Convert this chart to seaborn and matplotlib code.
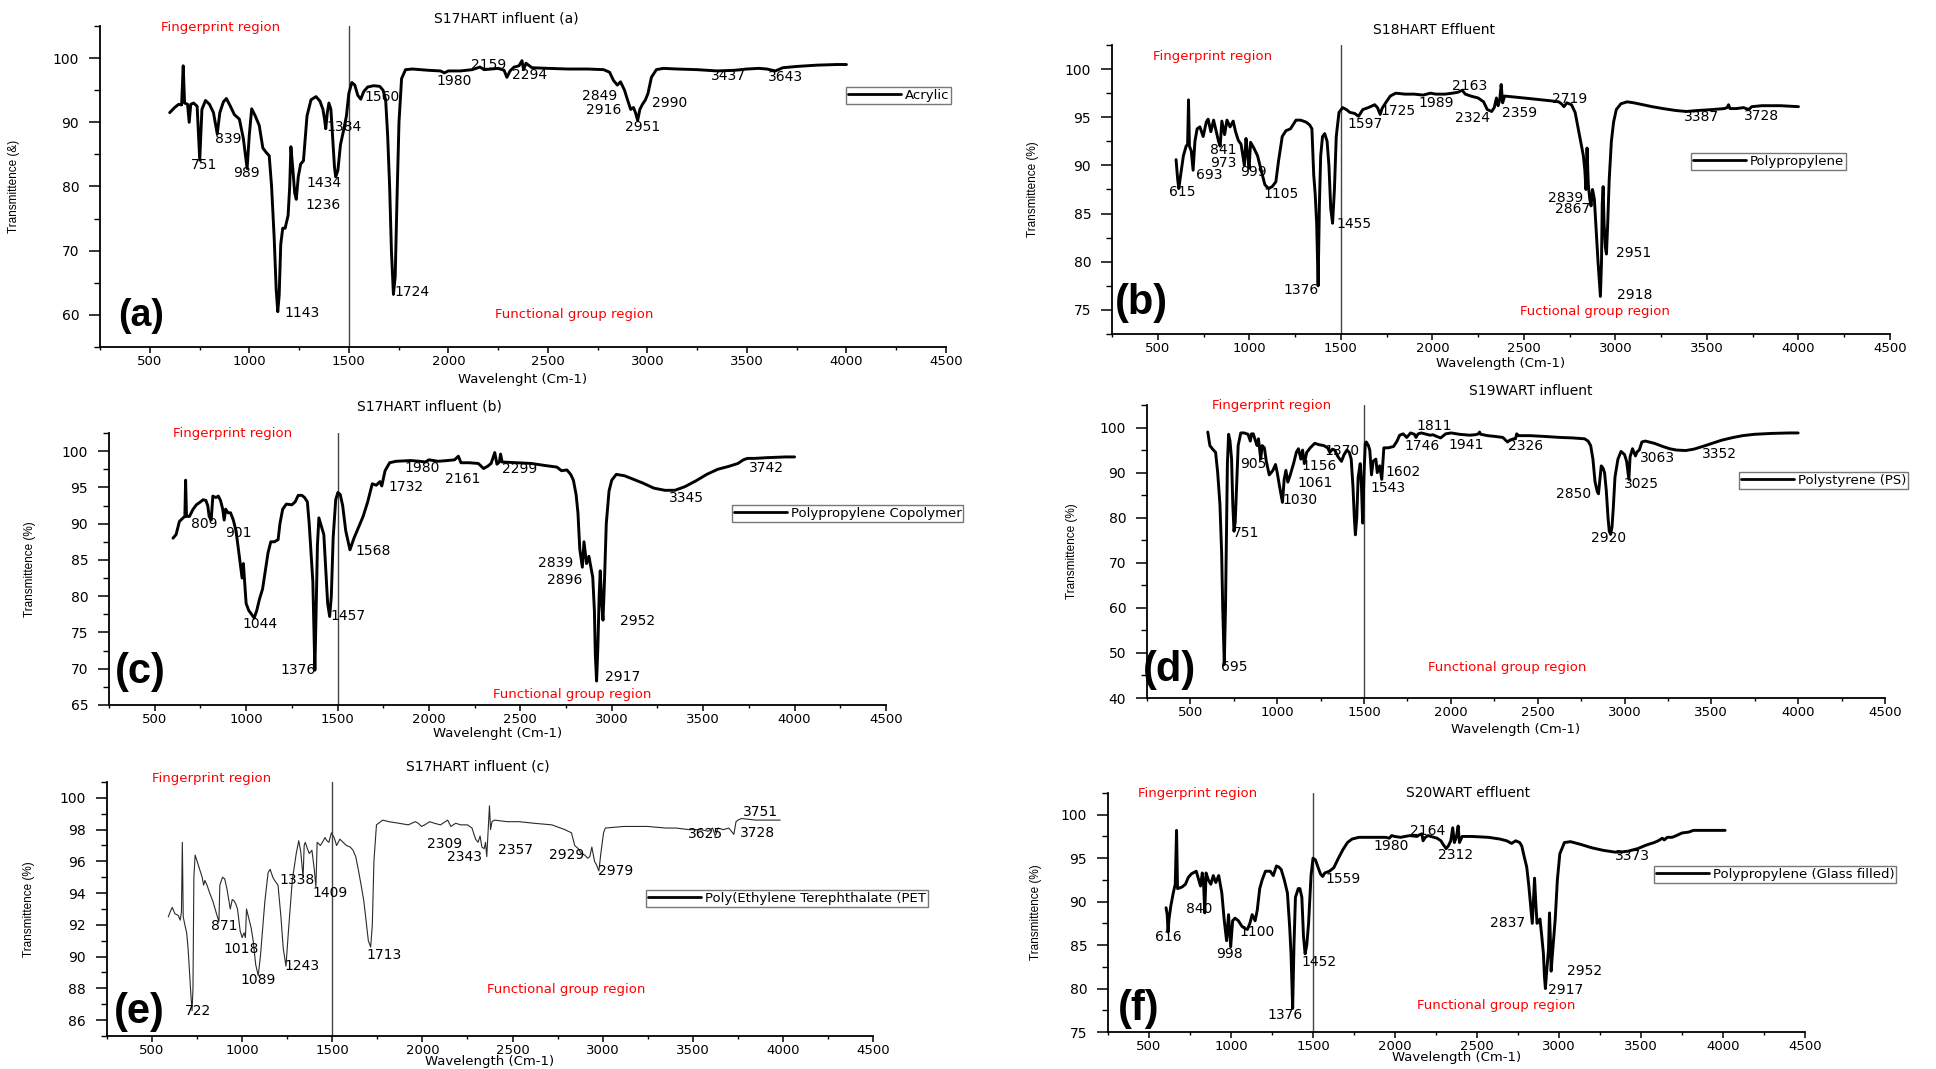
import matplotlib
matplotlib.use("Agg")
import matplotlib.pyplot as plt
from matplotlib.ticker import MultipleLocator
import pandas as pd
import seaborn as sns

# ---------------------------------------------------------------------------
# FTIR spectra: (wavenumber cm-1, transmittance %)
# ---------------------------------------------------------------------------
acrylic = [
    (600, 91.5), (625, 92.3), (645, 92.8), (660, 92.7), (668, 98.8), (675, 93.0),
    (690, 92.8), (698, 90.0), (706, 92.8), (720, 93.0), (738, 92.5), (751, 84.1),
    (762, 92.0), (780, 93.4), (800, 92.8), (820, 91.5), (839, 88.2), (852, 91.5),
    (870, 93.2), (885, 93.7), (905, 92.5), (925, 91.2), (950, 90.5), (970, 87.5),
    (989, 82.8), (1000, 88.0), (1012, 92.1), (1030, 91.0), (1050, 89.5), (1068, 86.0),
    (1085, 85.3), (1100, 84.8), (1112, 80.0), (1125, 72.0), (1135, 64.0), (1143, 60.5),
    (1150, 63.0), (1158, 71.0), (1168, 73.5), (1180, 73.5), (1195, 75.5), (1203, 80.0),
    (1209, 86.2), (1218, 83.0), (1228, 79.0), (1236, 78.0), (1246, 81.5), (1258, 83.5),
    (1272, 84.0), (1290, 91.0), (1310, 93.5), (1335, 94.0), (1355, 93.3), (1370, 92.0),
    (1378, 90.5), (1384, 89.0), (1392, 91.5), (1400, 93.0), (1410, 92.0), (1420, 87.0),
    (1428, 83.0), (1434, 81.5), (1445, 82.5), (1458, 86.5), (1472, 88.5), (1488, 91.0),
    (1500, 94.5), (1515, 96.2), (1530, 95.8), (1545, 94.2), (1560, 93.6), (1575, 94.8),
    (1595, 95.5), (1625, 95.7), (1655, 95.6), (1672, 95.0), (1685, 93.5), (1695, 88.0),
    (1705, 80.0), (1714, 70.0), (1724, 63.2), (1733, 66.0), (1742, 78.0), (1752, 90.0),
    (1765, 96.8), (1785, 98.2), (1820, 98.3), (1900, 98.1), (1960, 98.0), (1980, 97.7),
    (2000, 98.0), (2060, 98.0), (2120, 98.2), (2159, 98.6), (2180, 98.2), (2250, 98.4),
    (2280, 98.1), (2294, 97.0), (2310, 98.0), (2330, 98.6), (2355, 98.8), (2370, 99.6),
    (2378, 98.2), (2390, 99.2), (2420, 98.5), (2500, 98.4), (2600, 98.3), (2700, 98.3),
    (2780, 98.2), (2810, 97.8), (2830, 96.5), (2849, 95.8), (2865, 96.3), (2885, 95.0),
    (2900, 93.5), (2916, 92.0), (2930, 92.3), (2940, 91.5), (2951, 90.3), (2962, 92.0),
    (2975, 92.8), (2990, 93.5), (3003, 94.5), (3020, 97.0), (3045, 98.2), (3080, 98.4),
    (3150, 98.3), (3250, 98.2), (3350, 98.0), (3437, 98.1), (3500, 98.3), (3560, 98.4),
    (3600, 98.3), (3643, 98.0), (3680, 98.5), (3750, 98.7), (3850, 98.9), (3950, 99.0),
    (4000, 99.0),
]
acrylic_peaks = [751, 839, 989, 1143, 1236, 1434, 1384, 1560, 1724, 1980, 2159,
                 2294, 2849, 2916, 2951, 2990, 3437, 3643]

polypropylene = [
    (600, 90.6), (609, 88.5), (615, 87.6), (625, 89.0), (640, 91.0), (655, 92.0),
    (663, 92.2), (668, 96.8), (673, 92.0), (683, 91.5), (693, 89.5), (703, 92.5),
    (715, 93.8), (730, 94.0), (748, 93.0), (765, 94.5), (775, 94.8), (790, 93.5),
    (805, 94.7), (820, 93.5), (832, 92.5), (841, 92.0), (850, 94.6), (865, 93.2),
    (878, 94.7), (895, 94.0), (912, 94.6), (925, 93.5), (940, 92.6), (955, 92.2),
    (965, 91.0), (973, 90.0), (982, 92.8), (991, 91.0), (999, 89.7), (1007, 92.4),
    (1025, 91.8), (1045, 91.0), (1065, 89.5), (1085, 88.0), (1105, 87.6), (1125, 87.8),
    (1145, 88.3), (1160, 90.5), (1180, 93.0), (1200, 93.6), (1225, 93.8), (1255, 94.7),
    (1280, 94.7), (1310, 94.5), (1330, 94.2), (1342, 93.8), (1352, 89.0), (1360, 87.0),
    (1368, 84.0), (1376, 77.5), (1383, 86.0), (1390, 91.0), (1400, 93.0), (1412, 93.3),
    (1425, 92.5), (1435, 90.0), (1445, 85.5), (1455, 84.0), (1465, 87.5), (1475, 93.0),
    (1490, 95.5), (1510, 96.0), (1530, 95.8), (1550, 95.5), (1575, 95.4), (1597, 95.1),
    (1620, 95.8), (1650, 96.0), (1685, 96.3), (1700, 96.0), (1715, 95.3), (1725, 95.9),
    (1745, 96.5), (1770, 97.2), (1800, 97.5), (1850, 97.4), (1900, 97.4), (1950, 97.3),
    (1989, 97.5), (2020, 97.4), (2070, 97.4), (2110, 97.5), (2140, 97.6), (2163, 97.8),
    (2180, 97.4), (2210, 97.2), (2250, 97.0), (2280, 96.6), (2300, 95.8), (2324, 95.6),
    (2338, 96.0), (2350, 97.0), (2359, 96.2), (2368, 96.8), (2376, 98.4), (2384, 96.5),
    (2395, 97.2), (2450, 97.1), (2500, 97.0), (2550, 96.9), (2600, 96.8), (2650, 96.7),
    (2690, 96.6), (2705, 96.4), (2719, 96.1), (2735, 96.5), (2760, 96.3), (2780, 95.5),
    (2795, 94.0), (2810, 92.5), (2825, 91.0), (2833, 89.5), (2839, 87.5), (2845, 91.8),
    (2852, 88.0), (2860, 86.5), (2867, 85.8), (2875, 87.5), (2885, 86.5), (2897, 82.5),
    (2905, 80.0), (2912, 78.0), (2918, 76.4), (2924, 80.0), (2928, 86.0), (2933, 87.8),
    (2938, 84.0), (2945, 81.5), (2951, 80.8), (2958, 84.0), (2966, 88.5), (2978, 92.5),
    (2990, 94.5), (3005, 95.8), (3030, 96.4), (3064, 96.6), (3100, 96.5), (3150, 96.3),
    (3200, 96.1), (3260, 95.9), (3330, 95.7), (3387, 95.6), (3450, 95.7), (3530, 95.8),
    (3595, 95.9), (3610, 96.0), (3618, 96.3), (3626, 95.9), (3660, 95.9), (3700, 96.0),
    (3728, 95.8), (3745, 96.1), (3800, 96.2), (3900, 96.2), (4000, 96.1),
]
polypropylene_peaks = [615, 693, 841, 973, 999, 1105, 1376, 1455, 1597, 1725, 1989,
                       2163, 2324, 2359, 2719, 2839, 2867, 2951, 2918, 3387, 3728]

pp_copolymer = [
    (600, 88.0), (617, 88.5), (635, 90.3), (655, 90.8), (665, 91.0), (669, 96.0),
    (674, 91.0), (690, 91.0), (710, 92.0), (728, 92.6), (750, 93.0), (765, 93.3),
    (780, 93.2), (790, 92.5), (798, 91.0), (809, 90.5), (818, 93.8), (835, 93.6),
    (848, 93.8), (860, 93.2), (872, 92.0), (880, 90.5), (888, 92.0), (901, 91.5),
    (915, 91.5), (930, 90.5), (945, 89.0), (960, 86.0), (970, 84.0), (978, 82.5),
    (985, 84.5), (992, 82.0), (1000, 79.0), (1015, 78.0), (1030, 77.5), (1044, 77.0),
    (1058, 78.0), (1072, 79.5), (1090, 81.0), (1105, 83.5), (1120, 86.0), (1135, 87.5),
    (1155, 87.5), (1175, 87.8), (1185, 90.0), (1200, 92.0), (1220, 92.7), (1250, 92.6),
    (1268, 93.0), (1285, 93.9), (1305, 93.9), (1320, 93.6), (1335, 93.0), (1345, 90.0),
    (1355, 86.0), (1365, 82.0), (1376, 69.8), (1383, 78.0), (1390, 87.0), (1398, 90.8),
    (1410, 89.8), (1425, 88.5), (1435, 84.0), (1446, 79.0), (1457, 77.2), (1466, 80.0),
    (1476, 88.0), (1490, 93.3), (1502, 94.3), (1515, 94.0), (1528, 92.5), (1545, 89.0),
    (1568, 86.4), (1590, 88.0), (1615, 89.5), (1640, 91.0), (1665, 93.0), (1690, 95.5),
    (1712, 95.3), (1732, 95.8), (1742, 95.2), (1760, 97.3), (1785, 98.4), (1820, 98.6),
    (1900, 98.7), (1950, 98.6), (1980, 98.5), (2000, 98.8), (2050, 98.6), (2100, 98.7),
    (2140, 98.8), (2161, 99.3), (2175, 98.4), (2220, 98.4), (2270, 98.3), (2299, 97.6),
    (2320, 97.9), (2340, 98.3), (2360, 99.8), (2372, 98.2), (2385, 98.5), (2392, 99.6),
    (2400, 98.5), (2480, 98.4), (2560, 98.3), (2640, 98.0), (2700, 97.8), (2725, 97.3),
    (2755, 97.4), (2775, 96.8), (2790, 96.0), (2805, 94.0), (2815, 91.5), (2825, 86.5),
    (2839, 84.0), (2848, 87.5), (2862, 84.5), (2875, 85.5), (2896, 82.6), (2905, 78.0),
    (2910, 72.0), (2917, 68.3), (2924, 73.0), (2931, 80.0), (2937, 83.5), (2945, 79.0),
    (2952, 76.7), (2960, 82.0), (2970, 90.0), (2985, 94.5), (3000, 96.0), (3025, 96.8),
    (3070, 96.6), (3120, 96.1), (3170, 95.6), (3230, 94.9), (3290, 94.6), (3345, 94.6),
    (3400, 95.1), (3460, 95.9), (3520, 96.8), (3580, 97.5), (3640, 97.9), (3690, 98.3),
    (3720, 98.8), (3742, 99.0), (3780, 99.0), (3850, 99.1), (3950, 99.2), (4000, 99.2),
]
pp_copolymer_peaks = [809, 901, 1044, 1376, 1457, 1568, 1732, 1980, 2161, 2299,
                      2839, 2896, 2917, 2952, 3345, 3742]

polystyrene = [
    (600, 99.0), (612, 96.0), (628, 95.2), (645, 94.5), (657, 90.0), (670, 83.0),
    (680, 72.0), (686, 60.0), (695, 47.5), (702, 60.0), (708, 78.0), (713, 92.0),
    (720, 98.5), (728, 97.0), (737, 93.0), (744, 83.0), (751, 77.0), (758, 79.0),
    (765, 86.0), (775, 96.0), (790, 98.8), (810, 98.8), (832, 98.5), (845, 97.0),
    (852, 98.6), (862, 98.6), (875, 97.0), (884, 96.0), (892, 97.5), (905, 93.0),
    (913, 96.0), (926, 95.5), (937, 92.5), (954, 89.5), (965, 90.0), (975, 90.5),
    (990, 91.8), (1000, 90.0), (1013, 87.0), (1030, 83.4), (1040, 88.5), (1050, 90.5),
    (1061, 87.9), (1075, 89.5), (1094, 92.0), (1110, 94.5), (1122, 95.3), (1136, 93.0),
    (1146, 95.0), (1156, 92.0), (1170, 94.5), (1190, 95.5), (1216, 96.5), (1240, 96.2),
    (1268, 96.0), (1290, 95.5), (1303, 94.5), (1318, 95.2), (1331, 95.0), (1350, 93.5),
    (1370, 92.5), (1385, 94.0), (1401, 95.0), (1415, 94.5), (1426, 93.0), (1436, 87.0),
    (1444, 80.0), (1450, 76.2), (1458, 80.0), (1466, 89.0), (1478, 92.0), (1485, 87.0),
    (1492, 78.8), (1500, 90.0), (1507, 96.5), (1513, 96.8), (1525, 96.0), (1533, 95.0),
    (1543, 89.5), (1552, 92.5), (1568, 93.0), (1576, 90.0), (1590, 91.5), (1602, 88.5),
    (1614, 95.5), (1640, 95.5), (1670, 95.8), (1690, 97.0), (1705, 98.3), (1725, 98.6),
    (1746, 97.8), (1768, 98.8), (1790, 98.5), (1799, 97.8), (1811, 98.6), (1830, 98.8),
    (1850, 98.6), (1880, 98.3), (1897, 98.4), (1920, 98.0), (1941, 97.7), (1970, 98.6),
    (2002, 98.8), (2050, 98.5), (2107, 98.3), (2140, 98.4), (2159, 98.6), (2165, 99.0),
    (2172, 98.5), (2212, 98.2), (2260, 98.0), (2299, 97.8), (2315, 97.2), (2326, 96.8),
    (2340, 97.2), (2360, 97.5), (2372, 97.5), (2379, 98.6), (2390, 98.2), (2456, 98.2),
    (2550, 98.0), (2630, 97.8), (2700, 97.7), (2770, 97.5), (2790, 97.0), (2805, 96.0),
    (2818, 93.0), (2830, 88.0), (2843, 85.8), (2850, 85.3), (2858, 88.5), (2866, 91.5),
    (2876, 91.0), (2885, 90.0), (2895, 86.0), (2905, 80.0), (2912, 77.0), (2920, 76.3),
    (2928, 78.0), (2935, 82.0), (2945, 89.0), (2962, 93.0), (2980, 94.7), (3000, 94.0),
    (3012, 92.5), (3025, 88.5), (3032, 93.5), (3046, 95.3), (3056, 94.3), (3063, 93.7),
    (3072, 94.6), (3085, 95.0), (3100, 96.8), (3120, 97.0), (3172, 96.5), (3220, 95.8),
    (3260, 95.3), (3300, 95.0), (3352, 94.9), (3399, 95.2), (3450, 95.8), (3504, 96.5),
    (3560, 97.2), (3626, 97.8), (3680, 98.2), (3748, 98.5), (3850, 98.7), (3950, 98.8),
    (4000, 98.8),
]
polystyrene_peaks = [695, 751, 905, 1030, 1061, 1156, 1370, 1543, 1602, 1746, 1811,
                     1941, 2326, 2850, 2920, 3025, 3063, 3352]

pet = [
    (590, 92.5), (600, 92.8), (612, 93.1), (627, 92.7), (645, 92.6), (656, 92.3),
    (663, 92.8), (668, 97.2), (673, 92.5), (682, 92.0), (692, 91.5), (700, 90.5),
    (708, 89.0), (716, 87.5), (722, 86.6), (727, 88.0), (732, 95.0), (739, 96.4),
    (750, 96.0), (764, 95.5), (778, 95.0), (786, 94.5), (793, 94.8), (805, 94.5),
    (820, 94.0), (837, 93.5), (855, 92.8), (866, 92.4), (871, 92.2), (876, 94.5),
    (891, 95.0), (903, 94.9), (915, 94.3), (934, 93.0), (945, 93.6), (956, 93.5),
    (965, 93.3), (974, 93.0), (989, 91.6), (1000, 91.2), (1010, 91.5), (1018, 91.2),
    (1024, 93.0), (1039, 92.3), (1050, 91.8), (1061, 91.0), (1075, 89.5), (1089, 88.8),
    (1101, 90.0), (1115, 92.0), (1126, 93.5), (1144, 95.3), (1155, 95.5), (1170, 95.0),
    (1180, 94.8), (1199, 94.5), (1215, 92.5), (1228, 90.5), (1243, 89.4), (1256, 91.5),
    (1278, 94.8), (1300, 96.5), (1314, 97.3), (1325, 96.6), (1338, 95.0), (1344, 97.0),
    (1350, 97.2), (1362, 96.8), (1372, 96.5), (1387, 96.7), (1400, 95.5), (1409, 94.4),
    (1416, 97.2), (1434, 97.0), (1450, 97.3), (1459, 97.5), (1470, 97.3), (1481, 97.2),
    (1495, 97.8), (1510, 97.5), (1524, 97.0), (1542, 97.4), (1560, 97.2), (1579, 97.0),
    (1600, 96.9), (1615, 96.7), (1630, 96.3), (1644, 95.5), (1660, 94.5), (1675, 93.5),
    (1690, 92.0), (1700, 91.0), (1713, 90.6), (1722, 92.0), (1731, 96.0), (1745, 98.3),
    (1780, 98.6), (1814, 98.5), (1870, 98.4), (1922, 98.3), (1960, 98.5), (1977, 98.4),
    (1995, 98.2), (2013, 98.3), (2040, 98.5), (2067, 98.4), (2100, 98.3), (2140, 98.6),
    (2158, 98.2), (2185, 98.4), (2212, 98.3), (2250, 98.3), (2275, 98.1), (2295, 97.4),
    (2309, 97.2), (2320, 97.6), (2330, 96.9), (2343, 96.8), (2350, 97.2), (2357, 96.3),
    (2364, 97.8), (2372, 99.5), (2378, 98.0), (2386, 98.5), (2400, 98.6), (2470, 98.5),
    (2537, 98.5), (2620, 98.4), (2718, 98.3), (2790, 98.0), (2827, 97.8), (2845, 97.0),
    (2865, 96.8), (2881, 96.5), (2900, 96.4), (2917, 96.2), (2929, 96.3), (2940, 96.9),
    (2955, 96.0), (2965, 95.8), (2979, 95.4), (2990, 96.5), (3005, 97.8), (3015, 98.1),
    (3117, 98.2), (3250, 98.2), (3350, 98.1), (3406, 98.1), (3479, 98.0), (3540, 98.0),
    (3587, 97.9), (3610, 98.1), (3625, 97.6), (3640, 98.1), (3670, 98.0), (3700, 98.1),
    (3714, 97.9), (3728, 97.7), (3740, 98.5), (3751, 98.6), (3770, 98.7), (3850, 98.6),
    (3920, 98.6), (3985, 98.6),
]
pet_peaks = [722, 871, 1018, 1089, 1243, 1338, 1409, 1713, 2309, 2343, 2357, 2929,
             2979, 3625, 3728, 3751]

pp_glass = [
    (604, 89.3), (611, 88.5), (616, 86.5), (622, 88.0), (633, 89.5), (648, 91.0),
    (660, 92.0), (668, 98.2), (674, 91.5), (690, 91.6), (703, 91.7), (722, 92.0),
    (740, 92.8), (759, 93.2), (788, 93.5), (803, 92.5), (814, 91.8), (825, 93.3),
    (833, 92.0), (840, 88.7), (848, 93.3), (862, 92.5), (877, 92.0), (892, 93.0),
    (907, 92.2), (925, 93.0), (944, 91.0), (958, 88.0), (973, 85.5), (985, 88.5),
    (998, 84.8), (1010, 87.8), (1025, 88.1), (1045, 87.8), (1065, 87.2), (1085, 86.9),
    (1100, 86.8), (1115, 87.5), (1129, 88.5), (1147, 87.8), (1160, 89.0), (1175, 91.5),
    (1190, 92.5), (1210, 93.5), (1239, 93.5), (1258, 93.0), (1277, 94.1), (1290, 94.0),
    (1306, 93.7), (1325, 92.5), (1344, 91.0), (1358, 87.0), (1366, 84.0), (1376, 77.7),
    (1384, 85.0), (1393, 90.5), (1410, 91.5), (1420, 91.5), (1432, 90.5), (1442, 86.0),
    (1452, 84.0), (1462, 85.0), (1473, 87.5), (1488, 93.0), (1500, 95.0), (1515, 94.8),
    (1530, 94.0), (1545, 93.2), (1559, 92.9), (1572, 93.3), (1600, 93.5), (1627, 93.9),
    (1655, 95.0), (1683, 96.0), (1710, 96.8), (1738, 97.2), (1780, 97.4), (1850, 97.4),
    (1942, 97.4), (1965, 97.3), (1980, 97.6), (1997, 97.5), (2034, 97.4), (2090, 97.6),
    (2134, 97.5), (2150, 97.7), (2164, 97.8), (2171, 97.0), (2185, 97.4), (2201, 97.6),
    (2256, 97.3), (2280, 97.0), (2293, 96.6), (2312, 96.1), (2325, 96.4), (2340, 97.0),
    (2352, 98.5), (2362, 96.8), (2375, 97.5), (2385, 98.7), (2393, 96.8), (2410, 97.5),
    (2470, 97.5), (2570, 97.4), (2640, 97.2), (2681, 97.0), (2711, 96.7), (2736, 97.0),
    (2760, 96.8), (2773, 96.4), (2790, 95.0), (2803, 94.0), (2815, 92.0), (2825, 90.0),
    (2837, 87.5), (2844, 90.0), (2851, 92.7), (2858, 90.0), (2866, 87.5), (2875, 87.7),
    (2884, 88.0), (2895, 86.0), (2905, 84.0), (2911, 81.5), (2917, 80.0), (2925, 82.0),
    (2936, 84.5), (2942, 88.7), (2947, 86.0), (2952, 82.0), (2960, 84.0), (2977, 88.0),
    (2990, 92.5), (3005, 95.5), (3033, 96.8), (3070, 96.9), (3130, 96.6), (3199, 96.2),
    (3270, 95.9), (3340, 95.7), (3373, 95.7), (3420, 95.8), (3480, 96.1), (3531, 96.5),
    (3580, 96.8), (3605, 97.0), (3630, 97.3), (3642, 97.1), (3660, 97.4), (3690, 97.4),
    (3716, 97.6), (3750, 97.9), (3790, 98.0), (3820, 98.2), (3863, 98.2), (3950, 98.2),
    (4013, 98.2),
]
pp_glass_peaks = [616, 840, 998, 1100, 1376, 1452, 1559, 1980, 2164, 2312, 2837,
                  2917, 2952, 3373]

# ---------------------------------------------------------------------------
# Layout: axes rectangles (figure fraction), label placement in data units
# ---------------------------------------------------------------------------
W, H = 1936, 1069


def rect(left, top, right, bottom):
    return [left / W, 1 - bottom / H, (right - left) / W, (bottom - top) / H]


panels = [
    dict(data=acrylic, peaks=acrylic_peaks, name="Acrylic", tag="(a)",
         rect=rect(100, 26, 946, 347), ylim=(55, 105), major=10, minor=5,
         title="S17HART influent (a)", title_xy=(506, 18),
         ylabel="Transmittence (&)", xlabel="Wavelenght (Cm-1)", xlabel_dy=33,
         fp_xy=(858, 104.7), fg_xy=(2630, 60.0), fg_text="Functional group region",
         tag_xy=(458, 59.8), tag_size=27, leg_xy=(846, 87), thin=False,
         label_xy=[(772, 83.4), (896, 87.4), (986, 82.1), (1267, 60.3), (1369, 77.1),
                   (1375, 80.6), (1474, 89.3), (1666, 94.0), (1816, 63.6),
                   (2027, 96.4), (2203, 99.0), (2407, 97.3), (2759, 94.1),
                   (2781, 91.9), (2976, 89.3), (3110, 93.0), (3407, 97.2),
                   (3695, 97.1)]),
    dict(data=polypropylene, peaks=polypropylene_peaks, name="Polypropylene", tag="(b)",
         rect=rect(1112, 45, 1890, 334), ylim=(72.5, 102.5), major=5, minor=2.5,
         title="S18HART Effluent", title_xy=(1434, 30),
         ylabel="Transmittence (%)", xlabel="Wavelength (Cm-1)", xlabel_dy=30,
         fp_xy=(799, 101.3), fg_xy=(2888, 74.8), fg_text="Fuctional group region",
         tag_xy=(410, 75.7), tag_size=30, leg_xy=(1691, 153), thin=False,
         label_xy=[(636, 87.2), (782, 89.0), (858, 91.6), (858, 90.2), (1024, 89.3),
                   (1173, 87.0), (1283, 77.1), (1571, 83.9), (1631, 94.3),
                   (1813, 95.7), (2019, 96.5), (2201, 98.2), (2221, 94.9),
                   (2477, 95.4), (2749, 96.9), (2726, 86.6), (2765, 85.5),
                   (3097, 80.9), (3104, 76.6), (3468, 95.0), (3800, 95.1)]),
    dict(data=pp_copolymer, peaks=pp_copolymer_peaks, name="Polypropylene Copolymer",
         tag="(c)", rect=rect(109, 433, 886, 705), ylim=(65, 102.5), major=5, minor=2.5,
         title="S17HART influent (b)", title_xy=(429, 407),
         ylabel="Transmittence (%)", xlabel="Wavelenght (Cm-1)", xlabel_dy=28,
         fp_xy=(928, 102.5), fg_xy=(2781, 66.5), fg_text="Functional group region",
         tag_xy=(424, 69.6), tag_size=30, leg_xy=(732, 505), thin=False,
         label_xy=[(773, 90.0), (959, 88.7), (1076, 76.2), (1283, 69.8), (1556, 77.3),
                   (1694, 86.2), (1877, 95.0), (1963, 97.7), (2184, 96.2),
                   (2495, 97.5), (2695, 84.6), (2740, 82.3), (3057, 68.9),
                   (3143, 76.6), (3409, 93.5), (3844, 97.7)]),
    dict(data=polystyrene, peaks=polystyrene_peaks, name="Polystyrene (PS)", tag="(d)",
         rect=rect(1147, 405, 1885, 698), ylim=(40, 105), major=10, minor=5,
         title="S19WART influent", title_xy=(1531, 391),
         ylabel="Transmittence (%)", xlabel="Wavelength (Cm-1)", xlabel_dy=31,
         fp_xy=(965, 105.0), fg_xy=(2323, 46.8), fg_text="Functional group region",
         tag_xy=(378, 46.3), tag_size=30, leg_xy=(1739, 472), thin=False,
         label_xy=[(751, 46.8), (821, 76.5), (860, 92.0), (1129, 84.0), (1216, 87.8),
                   (1244, 91.5), (1373, 94.8), (1635, 86.6), (1722, 90.1),
                   (1834, 95.8), (1904, 100.3), (2089, 96.1), (2432, 95.8),
                   (2707, 85.2), (2910, 75.4), (3095, 87.5), (3190, 93.2),
                   (3546, 94.2)]),
    dict(data=pet, peaks=pet_peaks, name="Poly(Ethylene Terephthalate (PET", tag="(e)",
         rect=rect(107, 782, 873, 1036), ylim=(85, 101), major=2, minor=1,
         title="S17HART influent (c)", title_xy=(478, 766),
         ylabel="Transmittence (%)", xlabel="Wavelength (Cm-1)", xlabel_dy=26,
         fp_xy=(829, 101.2), fg_xy=(2798, 87.9), fg_text="Functional group region",
         tag_xy=(431, 86.5), tag_size=30, leg_xy=(646, 890), thin=True,
         label_xy=[(757, 86.6), (898, 91.9), (996, 90.5), (1090, 88.5), (1332, 89.4),
                   (1307, 94.8), (1488, 94.0), (1788, 90.1), (2125, 97.1),
                   (2233, 96.3), (2519, 96.7), (2798, 96.4), (3073, 95.4),
                   (3569, 97.7), (3859, 97.8), (3877, 99.1)]),
    dict(data=pp_glass, peaks=pp_glass_peaks, name="Polypropylene (Glass filled)",
         tag="(f)", rect=rect(1108, 793, 1805, 1032), ylim=(75, 102.5), major=5,
         minor=2.5, title="S20WART effluent", title_xy=(1468, 793),
         ylabel="Transmittence (%)", xlabel="Wavelength (Cm-1)", xlabel_dy=26,
         fp_xy=(796, 102.5), fg_xy=(2618, 78.1), fg_text="Functional group region",
         tag_xy=(437, 77.7), tag_size=30, leg_xy=(1654, 866), thin=False,
         label_xy=[(618, 85.9), (807, 89.1), (988, 84.0), (1158, 86.5), (1332, 76.9),
                   (1535, 83.0), (1683, 92.6), (1979, 96.4), (2201, 98.1),
                   (2367, 95.4), (2688, 87.5), (3043, 79.8), (3154, 82.0),
                   (3447, 95.3)]),
]

# ---------------------------------------------------------------------------
sns.set_theme(style="ticks")
plt.rcParams["font.family"] = ["DejaVu Sans"]
plt.rcParams.update({
    "axes.linewidth": 1.3,
    "axes.edgecolor": "black",
    "text.color": "black",
    "axes.labelcolor": "black",
    "xtick.color": "black",
    "ytick.color": "black",
})

fig = plt.figure(figsize=(W / 100, H / 100), dpi=100)
fig.patch.set_facecolor("white")

for p in panels:
    ax = fig.add_axes(p["rect"])
    ax.set_facecolor("white")
    df = pd.DataFrame(p["data"], columns=["wavenumber", "transmittance"])
    color = "#2a2a2a" if p["thin"] else "black"
    lw = 0.8 if p["thin"] else 2.1
    sns.lineplot(data=df, x="wavenumber", y="transmittance", ax=ax, color=color,
                 linewidth=lw, sort=False, estimator=None, label=p["name"])

    ax.set_xlim(250, 4500)
    ax.set_ylim(*p["ylim"])
    ax.xaxis.set_major_locator(MultipleLocator(500))
    ax.xaxis.set_minor_locator(MultipleLocator(250))
    ax.yaxis.set_major_locator(MultipleLocator(p["major"]))
    ax.yaxis.set_minor_locator(MultipleLocator(p["minor"]))
    ax.tick_params(axis="x", which="major", length=4, width=1.1, labelsize=9.5, pad=2)
    ax.tick_params(axis="x", which="minor", length=2.5, width=1.0)
    ax.tick_params(axis="y", which="major", length=8, width=1.1, labelsize=10, pad=7)
    ax.tick_params(axis="y", which="minor", length=4.5, width=1.0)
    sns.despine(ax=ax)

    ax.set_xlabel(p["xlabel"], fontsize=9.5, color="black", va="center")
    ax.xaxis.set_label_coords(0.5, -p["xlabel_dy"] / (p["rect"][3] * H))
    ax.set_ylabel(p["ylabel"], fontsize=8.5, color="black",
                  family=["Liberation Sans", "DejaVu Sans"])
    ax.yaxis.set_label_coords(-0.094, 0.5)

    # boundary between fingerprint and functional-group regions
    ax.axvline(1500, color="#444444", linewidth=1.0, zorder=1)

    for wn, (tx, ty) in zip(p["peaks"], p["label_xy"]):
        ax.text(tx, ty, str(wn), fontsize=10, ha="center", va="center", color="black",
                zorder=3)

    ax.text(*p["fp_xy"], "Fingerprint region", color="red", fontsize=9.5,
            ha="center", va="center")
    ax.text(*p["fg_xy"], p["fg_text"], color="red", fontsize=9.5,
            ha="center", va="center")
    ax.text(*p["tag_xy"], p["tag"], fontsize=p["tag_size"], fontweight="bold",
            color="black", family=["Liberation Sans", "DejaVu Sans"],
            ha="center", va="center")

    fig.text(p["title_xy"][0] / W, 1 - p["title_xy"][1] / H, p["title"],
             fontsize=10, color="black", ha="center", va="center")

    lx, ly = p["leg_xy"]
    leg = ax.legend(loc="upper left", bbox_to_anchor=(lx / W, 1 - ly / H),
                    bbox_transform=fig.transFigure, borderaxespad=0, fontsize=9.5,
                    frameon=True, fancybox=False, framealpha=1, borderpad=0.15,
                    handlelength=4.0, handletextpad=0.3)
    leg.get_frame().set_edgecolor("#777777")
    leg.get_frame().set_linewidth(1.0)
    for line in leg.get_lines():
        line.set_linewidth(2.0)
        line.set_color("black")

fig.savefig("out.png", dpi=100, facecolor="white")
